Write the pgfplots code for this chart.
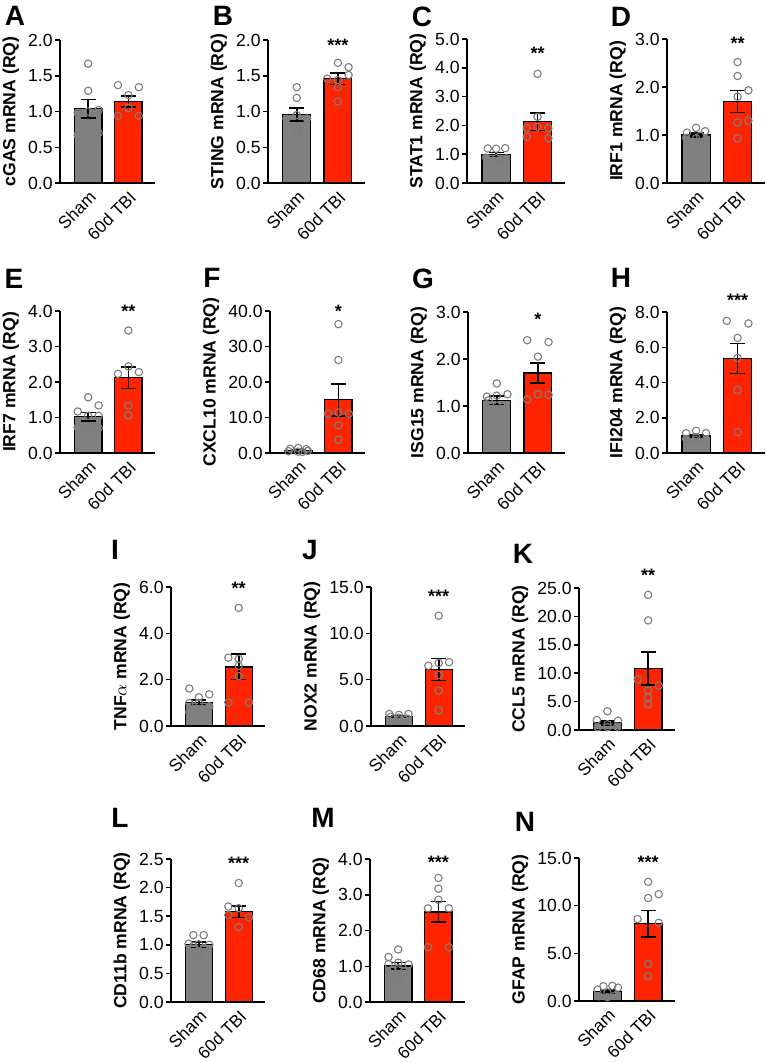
\documentclass[border=0pt]{standalone}
\usepackage{fontspec}
\setmainfont{Liberation Sans}
\usepackage{pgfplots}
\pgfplotsset{compat=1.18}
\definecolor{shamgray}{RGB}{128,128,128}
\definecolor{tbired}{RGB}{255,36,0}
\definecolor{dotgray}{RGB}{125,125,125}
\pgfplotsset{
  panel/.style={
    scale only axis,
    anchor=south west,
    axis lines=left,
    axis line style={-, line width=0.75pt, black},
    xmin=0.3, xmax=2.66, ymin=0,
    xtick={1,2}, xticklabels={Sham,60d TBI},
    x tick label style={rotate=45, anchor=north east, inner sep=0.5pt, font=\fontsize{8.6}{10}\selectfont},
    major x tick style={draw=none},
    y tick label style={font=\fontsize{8.8}{10}\selectfont, inner xsep=1pt},
    tick align=outside,
    major tick length=2.5pt,
    tick style={line width=0.75pt, black},
    /pgf/number format/assume math mode=true,
    yticklabel style={/pgf/number format/fixed, /pgf/number format/fixed zerofill, /pgf/number format/precision=1},
    ylabel style={font=\fontsize{8.8}{10}\selectfont\bfseries},
    clip=false,
  },
  sbar/.style={ybar, bar width=0.68, bar shift=0pt, fill=shamgray, draw=black, line width=0.65pt,
    error bars/.cd, y dir=both, y explicit, error bar style={line width=0.8pt, black},
    error mark options={rotate=90, line width=0.8pt, black, mark size=3.75pt}},
  tbar/.style={ybar, bar width=0.68, bar shift=0pt, fill=tbired, draw=black, line width=0.65pt,
    error bars/.cd, y dir=both, y explicit, error bar style={line width=0.8pt, black},
    error mark options={rotate=90, line width=0.8pt, black, mark size=3.75pt}},
  dots/.style={only marks, mark=o, mark size=1.85pt, mark options={draw=dotgray, line width=0.55pt, fill=none}},
}
\tikzset{
  sig/.style={font=\fontsize{9}{10}\selectfont\bfseries, inner sep=0pt, yshift=-1.75pt},
  letter/.style={font=\fontsize{14}{15}\selectfont\bfseries, inner sep=0pt},
}
\begin{document}
\begin{tikzpicture}
\path[use as bounding box] (0pt,0pt) rectangle (383pt,-531pt);
% ---------- A
\node[letter] at (7.5pt,-8pt) {A};
\begin{axis}[panel, at={(30pt,-91.5pt)}, width=47.5pt, height=71.5pt, ymax=2, ytick={0,0.5,1,1.5,2}, ylabel={cGAS mRNA (RQ)}]
\addplot[sbar] coordinates {(1,1.04) +- (0,0.13)};
\addplot[tbar] coordinates {(2,1.14) +- (0,0.08)};
\addplot[dots] coordinates {(1.0,1.67) (1.0,1.29) (0.74,0.98) (1.0,1.0) (1.26,1.02) (0.74,0.67) (1.26,0.70)};
\addplot[dots] coordinates {(1.74,1.37) (2.26,1.34) (2.0,1.23) (1.74,0.94) (2.26,0.94) (2.0,1.05)};
\end{axis}
% ---------- B
\node[letter] at (111.5pt,-8pt) {B};
\begin{axis}[panel, at={(134pt,-91.5pt)}, width=48.5pt, height=71.5pt, ymax=2, ytick={0,0.5,1,1.5,2}, ylabel={STING mRNA (RQ)}]
\addplot[sbar] coordinates {(1,0.96) +- (0,0.09)};
\addplot[tbar] coordinates {(2,1.46) +- (0,0.08)};
\addplot[dots] coordinates {(1.0,1.34) (1.0,1.19) (0.75,0.90) (1.25,0.90) (1.0,0.77) (1.0,0.68) (1.0,0.95)};
\addplot[dots] coordinates {(2.0,1.68) (2.26,1.62) (1.74,1.46) (2.26,1.51) (2.0,1.34) (2.0,1.14) (2.0,1.44)};
\node[sig] at (axis cs:2,1.98) {***};
\end{axis}
% ---------- C
\node[letter] at (211pt,-8.5pt) {C};
\begin{axis}[panel, at={(233.5pt,-91.5pt)}, width=49pt, height=72pt, ymax=5, ytick={0,1,2,3,4,5}, ylabel={STAT1 mRNA (RQ)}]
\addplot[sbar] coordinates {(1,0.99) +- (0,0.07)};
\addplot[tbar] coordinates {(2,2.13) +- (0,0.31)};
\addplot[dots] coordinates {(0.8,1.20) (1.0,1.19) (1.22,1.21) (0.76,0.88) (1.0,0.86) (1.24,0.85) (1.1,0.80)};
\addplot[dots] coordinates {(2.0,3.79) (2.0,2.30) (2.0,1.95) (1.74,1.90) (2.26,1.90) (1.74,1.60) (2.26,1.55)};
\node[sig] at (axis cs:2,4.63) {**};
\end{axis}
% ---------- D
\node[letter] at (310.5pt,-8.5pt) {D};
\begin{axis}[panel, at={(333.5pt,-91.5pt)}, width=49pt, height=72pt, ymax=3, ytick={0,1,2,3}, ylabel={IRF1 mRNA (RQ)}]
\addplot[sbar] coordinates {(1,1.0) +- (0,0.04)};
\addplot[tbar] coordinates {(2,1.70) +- (0,0.23)};
\addplot[dots] coordinates {(1.0,1.15) (1.22,1.08) (0.78,1.05) (0.76,0.94) (1.0,0.93) (1.24,0.92) (1.1,0.98)};
\addplot[dots] coordinates {(2.0,2.52) (2.0,2.23) (2.26,1.93) (2.0,1.80) (2.26,1.30) (2.0,1.26) (2.0,0.93)};
\node[sig] at (axis cs:2,2.99) {**};
\end{axis}
% ---------- E
\node[letter] at (7pt,-139.5pt) {E};
\begin{axis}[panel, at={(30pt,-226.5pt)}, width=47.5pt, height=71pt, ymax=4, ytick={0,1,2,3,4}, ylabel={IRF7 mRNA (RQ)}]
\addplot[sbar] coordinates {(1,1.02) +- (0,0.12)};
\addplot[tbar] coordinates {(2,2.12) +- (0,0.30)};
\addplot[dots] coordinates {(1.0,1.57) (1.26,1.34) (0.74,1.17) (1.0,1.05) (1.26,1.05) (0.74,0.72) (1.0,0.72) (1.26,0.70)};
\addplot[dots] coordinates {(2.0,3.45) (1.74,2.23) (2.0,2.44) (2.26,2.28) (2.0,1.33) (2.0,1.06)};
\node[sig] at (axis cs:2,4.1) {**};
\end{axis}
% ---------- F
\node[letter] at (106pt,-139pt) {F};
\begin{axis}[panel, at={(135pt,-226.5pt)}, width=47.5pt, height=71pt, ymax=40, ytick={0,10,20,30,40}, ylabel={CXCL10 mRNA (RQ)}]
\addplot[sbar] coordinates {(1,0.79) +- (0,0.15)};
\addplot[tbar] coordinates {(2,15.0) +- (0,4.5)};
\addplot[dots] coordinates {(0.8,1.2) (1.0,1.4) (1.2,1.1) (0.76,0.5) (1.0,0.4) (1.24,0.6) (1.1,0.3)};
\addplot[dots] coordinates {(2.0,36.3) (2.0,26.2) (1.74,11.05) (2.0,11.4) (2.26,11.05) (2.0,7.8) (2.0,3.75)};
\node[sig] at (axis cs:2,40.9) {*};
\end{axis}
% ---------- G
\node[letter] at (211.5pt,-139.5pt) {G};
\begin{axis}[panel, at={(234pt,-226.5pt)}, width=48.5pt, height=70.5pt, ymax=3, ytick={0,1,2,3}, ylabel={ISG15 mRNA (RQ)}]
\addplot[sbar] coordinates {(1,1.12) +- (0,0.09)};
\addplot[tbar] coordinates {(2,1.70) +- (0,0.21)};
\addplot[dots] coordinates {(1.0,1.48) (0.76,1.20) (1.0,1.22) (1.26,1.25) (0.8,1.12) (1.0,1.01) (1.0,0.67)};
\addplot[dots] coordinates {(1.74,2.40) (2.26,2.36) (2.0,2.05) (1.74,1.14) (2.0,1.25) (2.26,1.24)};
\node[sig] at (axis cs:2,2.91) {*};
\end{axis}
% ---------- H
\node[letter] at (310.5pt,-139pt) {H};
\begin{axis}[panel, at={(333.5pt,-226.5pt)}, width=49pt, height=70.5pt, ymax=8, ytick={0,2,4,6,8}, ylabel={IFI204 mRNA (RQ)}]
\addplot[sbar] coordinates {(1,0.96) +- (0,0.08)};
\addplot[tbar] coordinates {(2,5.37) +- (0,0.85)};
\addplot[dots] coordinates {(1.0,1.26) (0.76,1.13) (1.24,1.13) (0.76,0.80) (1.0,0.75) (1.24,0.78) (1.0,0.9)};
\addplot[dots] coordinates {(1.74,7.5) (2.26,7.35) (2.0,6.53) (2.0,5.4) (2.0,3.58) (2.0,1.19)};
\node[sig] at (axis cs:2,8.85) {***};
\end{axis}
% ---------- I
\node[letter] at (57.5pt,-275pt) {I};
\begin{axis}[panel, at={(85.5pt,-363pt)}, width=47pt, height=69.5pt, ymax=6, ytick={0,2,4,6}, ylabel={TNF$\alpha$ mRNA (RQ)}]
\addplot[sbar] coordinates {(1,1.03) +- (0,0.10)};
\addplot[tbar] coordinates {(2,2.55) +- (0,0.55)};
\addplot[dots] coordinates {(0.76,1.62) (1.26,1.37) (1.0,1.24) (0.76,0.99) (1.0,1.0) (0.76,0.60) (1.0,0.53) (1.26,0.85)};
\addplot[dots] coordinates {(2.0,5.1) (1.74,2.95) (2.0,2.9) (2.0,2.6) (2.0,2.15) (1.74,1.02) (2.26,1.02)};
\node[sig] at (axis cs:2,6.1) {**};
\end{axis}
% ---------- J
\node[letter] at (155pt,-275pt) {J};
\begin{axis}[panel, at={(185.5pt,-363pt)}, width=47pt, height=69.5pt, ymax=15, ytick={0,5,10,15}, ylabel={NOX2 mRNA (RQ)}]
\addplot[sbar] coordinates {(1,1.0) +- (0,0.08)};
\addplot[tbar] coordinates {(2,6.1) +- (0,1.2)};
\addplot[dots] coordinates {(0.76,1.3) (1.0,1.2) (1.24,1.3) (0.8,1.0) (1.0,0.9) (1.2,0.8) (1.0,0.7)};
\addplot[dots] coordinates {(2.0,11.9) (1.74,6.5) (2.0,6.8) (2.26,6.9) (2.0,5.5) (2.0,3.8) (2.0,1.7)};
\node[sig] at (axis cs:2,14.4) {***};
\end{axis}
% ---------- K
\node[letter] at (261.5pt,-277pt) {K};
\begin{axis}[panel, at={(289.5pt,-365pt)}, width=48pt, height=71pt, ymax=25, ytick={0,5,10,15,20,25}, ylabel={CCL5 mRNA (RQ)}]
\addplot[sbar] coordinates {(1,1.25) +- (0,0.35)};
\addplot[tbar] coordinates {(2,10.8) +- (0,2.9)};
\addplot[dots] coordinates {(1.0,3.3) (0.74,1.76) (1.26,1.64) (1.0,1.0) (0.76,0.5) (1.0,0.5) (1.24,0.6)};
\addplot[dots] coordinates {(2.0,23.8) (2.0,19.3) (1.74,8.9) (2.26,7.8) (2.0,7.0) (2.0,5.7) (2.0,4.5)};
\node[sig] at (axis cs:2,27.9) {**};
\end{axis}
% ---------- L
\node[letter] at (60pt,-409pt) {L};
\begin{axis}[panel, at={(85.5pt,-501pt)}, width=47pt, height=71.5pt, ymax=2.5, ytick={0,0.5,1,1.5,2,2.5}, ylabel={CD11b mRNA (RQ)}]
\addplot[sbar] coordinates {(1,1.0) +- (0,0.05)};
\addplot[tbar] coordinates {(2,1.58) +- (0,0.10)};
\addplot[dots] coordinates {(0.86,1.17) (1.12,1.17) (0.74,1.02) (1.0,1.01) (1.26,1.0) (0.86,0.98) (1.12,0.94) (1.0,0.79)};
\addplot[dots] coordinates {(2.0,2.08) (1.74,1.67) (2.0,1.64) (1.74,1.52) (2.26,1.48) (2.0,1.31)};
\node[sig] at (axis cs:2,2.49) {***};
\end{axis}
% ---------- M
\node[letter] at (161.5pt,-409pt) {M};
\begin{axis}[panel, at={(185pt,-501pt)}, width=47.5pt, height=71.5pt, ymax=4, ytick={0,1,2,3,4}, ylabel={CD68 mRNA (RQ)}]
\addplot[sbar] coordinates {(1,1.01) +- (0,0.09)};
\addplot[tbar] coordinates {(2,2.52) +- (0,0.29)};
\addplot[dots] coordinates {(1.0,1.47) (0.76,1.26) (1.0,1.1) (0.76,1.06) (1.26,1.05) (1.0,0.95) (0.86,0.9) (1.14,0.85) (1.0,0.61)};
\addplot[dots] coordinates {(2.0,3.47) (2.0,3.17) (2.0,2.86) (1.74,2.62) (2.26,2.62) (1.74,1.53) (2.26,1.53)};
\node[sig] at (axis cs:2,4.0) {***};
\end{axis}
% ---------- N
\node[letter] at (262.5pt,-411pt) {N};
\begin{axis}[panel, at={(289.5pt,-500.5pt)}, width=48pt, height=71.5pt, ymax=15, ytick={0,5,10,15}, ylabel={GFAP mRNA (RQ)}]
\addplot[sbar] coordinates {(1,0.98) +- (0,0.15)};
\addplot[tbar] coordinates {(2,8.1) +- (0,1.4)};
\addplot[dots] coordinates {(1.12,1.6) (0.9,1.55) (1.26,1.4) (0.76,1.2) (1.0,0.9) (0.8,0.5) (1.0,0.4) (1.2,0.6)};
\addplot[dots] coordinates {(2.0,12.5) (2.0,10.8) (2.26,11.2) (1.74,8.6) (2.26,8.2) (2.0,3.9) (2.0,2.6)};
\node[sig] at (axis cs:2,14.9) {***};
\end{axis}
\end{tikzpicture}
\end{document}
